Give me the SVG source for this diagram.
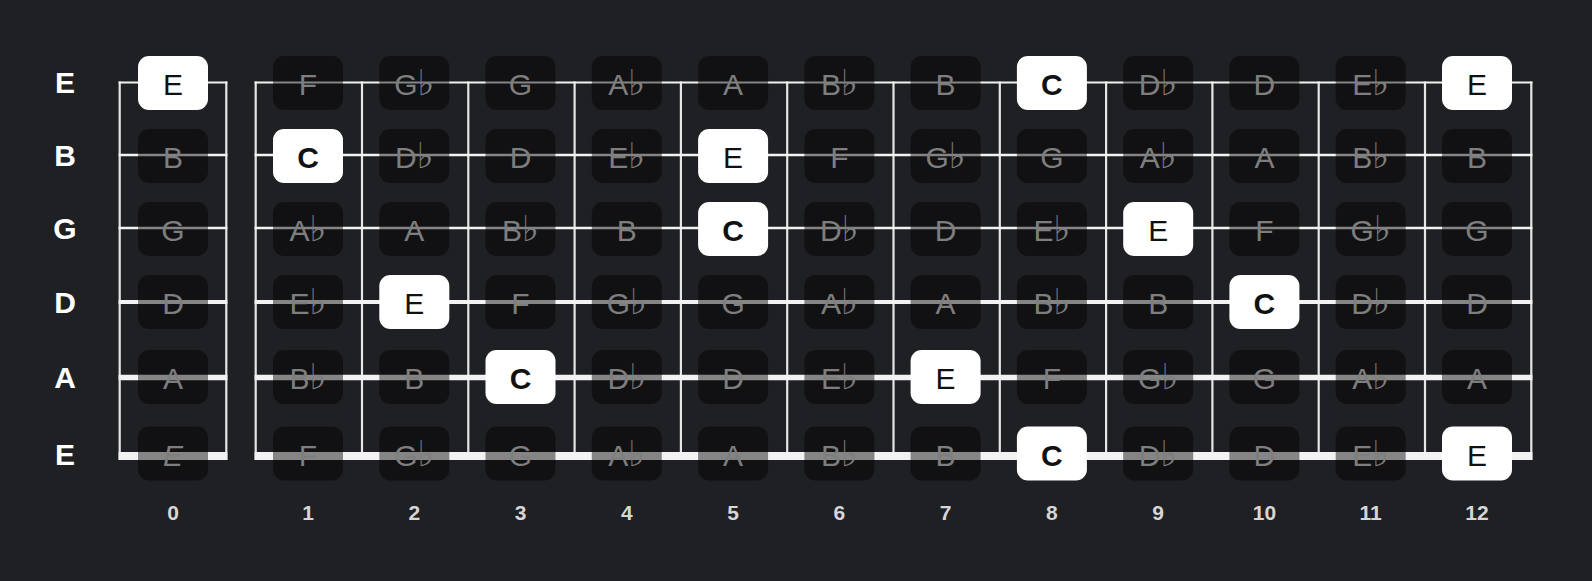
<svg xmlns="http://www.w3.org/2000/svg" width="1592" height="581" viewBox="0 0 1592 581">
<style>
text{font-family:"Liberation Sans","DejaVu Sans",Arial,sans-serif;text-anchor:middle}
.bg{fill:#1f2024}
.s{stroke:#f2f2f2;fill:none}
.f{stroke:#e6e6e6;stroke-width:2.2;fill:none}
.n rect{fill:#000;fill-opacity:0.45}
.n text{fill:#7e7e7e;font-size:30px}
.fl{font-family:"DejaVu Sans",sans-serif;font-size:36px}
.w rect{fill:#fff}
.w text{fill:#111;font-size:30px}
.root text{font-weight:bold}
.lab{fill:#fff;font-size:30px;font-weight:bold}
.num{fill:#d6d6d6;font-size:21px;font-weight:bold}
</style>
<rect class="bg" x="0" y="0" width="1592" height="581"/>
<g id="connectors">
<g id="frets">
<line class="f" x1="119.7" y1="81.5" x2="119.7" y2="460"/>
<line class="f" x1="226.3" y1="81.5" x2="226.3" y2="460"/>
<line class="f" x1="255.7" y1="81.5" x2="255.7" y2="460"/>
<line class="f" x1="362" y1="81.5" x2="362" y2="460"/>
<line class="f" x1="468.3" y1="81.5" x2="468.3" y2="460"/>
<line class="f" x1="574.6" y1="81.5" x2="574.6" y2="460"/>
<line class="f" x1="680.9" y1="81.5" x2="680.9" y2="460"/>
<line class="f" x1="787.2" y1="81.5" x2="787.2" y2="460"/>
<line class="f" x1="893.5" y1="81.5" x2="893.5" y2="460"/>
<line class="f" x1="999.8" y1="81.5" x2="999.8" y2="460"/>
<line class="f" x1="1106.1" y1="81.5" x2="1106.1" y2="460"/>
<line class="f" x1="1212.4" y1="81.5" x2="1212.4" y2="460"/>
<line class="f" x1="1318.7" y1="81.5" x2="1318.7" y2="460"/>
<line class="f" x1="1425" y1="81.5" x2="1425" y2="460"/>
<line class="f" x1="1531.3" y1="81.5" x2="1531.3" y2="460"/>
</g>
<g id="strings">
<path class="s" stroke-width="2" d="M118.6 82.5H227.4M254.6 82.5H1532.4"/>
<path class="s" stroke-width="2.4" d="M118.6 155H227.4M254.6 155H1532.4"/>
<path class="s" stroke-width="2.6" d="M118.6 228H227.4M254.6 228H1532.4"/>
<path class="s" stroke-width="4" d="M118.6 302H227.4M254.6 302H1532.4"/>
<path class="s" stroke-width="5.6" d="M118.6 377.5H227.4M254.6 377.5H1532.4"/>
<path class="s" stroke-width="8" d="M118.6 456H227.4M254.6 456H1532.4"/>
</g>
</g>
<g id="string-labels">
<text class="lab" x="65" y="93">E</text>
<text class="lab" x="65" y="166">B</text>
<text class="lab" x="65" y="239">G</text>
<text class="lab" x="65" y="313">D</text>
<text class="lab" x="65" y="388">A</text>
<text class="lab" x="65" y="465">E</text>
</g>
<g id="fret-numbers">
<text class="num" x="173" y="520">0</text>
<text class="num" x="308" y="520">1</text>
<text class="num" x="414.3" y="520">2</text>
<text class="num" x="520.5" y="520">3</text>
<text class="num" x="626.8" y="520">4</text>
<text class="num" x="733.1" y="520">5</text>
<text class="num" x="839.4" y="520">6</text>
<text class="num" x="945.6" y="520">7</text>
<text class="num" x="1051.9" y="520">8</text>
<text class="num" x="1158.2" y="520">9</text>
<text class="num" x="1264.4" y="520">10</text>
<text class="num" x="1370.7" y="520">11</text>
<text class="num" x="1477" y="520">12</text>
</g>
<!-- string 1 (high E) -->
<g id="s1f0" class="w"><rect x="138" y="56" width="70" height="54" rx="11"/><text x="173" y="95">E</text></g>
<g id="s1f1" class="n"><rect x="273" y="56" width="70" height="54" rx="11"/><text x="308" y="95">F</text></g>
<g id="s1f2" class="n"><rect x="379.3" y="56" width="70" height="54" rx="11"/><text x="414.3" y="95">G<tspan class="fl">♭</tspan></text></g>
<g id="s1f3" class="n"><rect x="485.5" y="56" width="70" height="54" rx="11"/><text x="520.5" y="95">G</text></g>
<g id="s1f4" class="n"><rect x="591.8" y="56" width="70" height="54" rx="11"/><text x="626.8" y="95">A<tspan class="fl">♭</tspan></text></g>
<g id="s1f5" class="n"><rect x="698.1" y="56" width="70" height="54" rx="11"/><text x="733.1" y="95">A</text></g>
<g id="s1f6" class="n"><rect x="804.4" y="56" width="70" height="54" rx="11"/><text x="839.4" y="95">B<tspan class="fl">♭</tspan></text></g>
<g id="s1f7" class="n"><rect x="910.6" y="56" width="70" height="54" rx="11"/><text x="945.6" y="95">B</text></g>
<g id="s1f8" class="w root"><rect x="1016.9" y="56" width="70" height="54" rx="11"/><text x="1051.9" y="95">C</text></g>
<g id="s1f9" class="n"><rect x="1123.2" y="56" width="70" height="54" rx="11"/><text x="1158.2" y="95">D<tspan class="fl">♭</tspan></text></g>
<g id="s1f10" class="n"><rect x="1229.4" y="56" width="70" height="54" rx="11"/><text x="1264.4" y="95">D</text></g>
<g id="s1f11" class="n"><rect x="1335.7" y="56" width="70" height="54" rx="11"/><text x="1370.7" y="95">E<tspan class="fl">♭</tspan></text></g>
<g id="s1f12" class="w"><rect x="1442" y="56" width="70" height="54" rx="11"/><text x="1477" y="95">E</text></g>
<!-- string 2 (B) -->
<g id="s2f0" class="n"><rect x="138" y="129" width="70" height="54" rx="11"/><text x="173" y="168">B</text></g>
<g id="s2f1" class="w root"><rect x="273" y="129" width="70" height="54" rx="11"/><text x="308" y="168">C</text></g>
<g id="s2f2" class="n"><rect x="379.3" y="129" width="70" height="54" rx="11"/><text x="414.3" y="168">D<tspan class="fl">♭</tspan></text></g>
<g id="s2f3" class="n"><rect x="485.5" y="129" width="70" height="54" rx="11"/><text x="520.5" y="168">D</text></g>
<g id="s2f4" class="n"><rect x="591.8" y="129" width="70" height="54" rx="11"/><text x="626.8" y="168">E<tspan class="fl">♭</tspan></text></g>
<g id="s2f5" class="w"><rect x="698.1" y="129" width="70" height="54" rx="11"/><text x="733.1" y="168">E</text></g>
<g id="s2f6" class="n"><rect x="804.4" y="129" width="70" height="54" rx="11"/><text x="839.4" y="168">F</text></g>
<g id="s2f7" class="n"><rect x="910.6" y="129" width="70" height="54" rx="11"/><text x="945.6" y="168">G<tspan class="fl">♭</tspan></text></g>
<g id="s2f8" class="n"><rect x="1016.9" y="129" width="70" height="54" rx="11"/><text x="1051.9" y="168">G</text></g>
<g id="s2f9" class="n"><rect x="1123.2" y="129" width="70" height="54" rx="11"/><text x="1158.2" y="168">A<tspan class="fl">♭</tspan></text></g>
<g id="s2f10" class="n"><rect x="1229.4" y="129" width="70" height="54" rx="11"/><text x="1264.4" y="168">A</text></g>
<g id="s2f11" class="n"><rect x="1335.7" y="129" width="70" height="54" rx="11"/><text x="1370.7" y="168">B<tspan class="fl">♭</tspan></text></g>
<g id="s2f12" class="n"><rect x="1442" y="129" width="70" height="54" rx="11"/><text x="1477" y="168">B</text></g>
<!-- string 3 (G) -->
<g id="s3f0" class="n"><rect x="138" y="202" width="70" height="54" rx="11"/><text x="173" y="241">G</text></g>
<g id="s3f1" class="n"><rect x="273" y="202" width="70" height="54" rx="11"/><text x="308" y="241">A<tspan class="fl">♭</tspan></text></g>
<g id="s3f2" class="n"><rect x="379.3" y="202" width="70" height="54" rx="11"/><text x="414.3" y="241">A</text></g>
<g id="s3f3" class="n"><rect x="485.5" y="202" width="70" height="54" rx="11"/><text x="520.5" y="241">B<tspan class="fl">♭</tspan></text></g>
<g id="s3f4" class="n"><rect x="591.8" y="202" width="70" height="54" rx="11"/><text x="626.8" y="241">B</text></g>
<g id="s3f5" class="w root"><rect x="698.1" y="202" width="70" height="54" rx="11"/><text x="733.1" y="241">C</text></g>
<g id="s3f6" class="n"><rect x="804.4" y="202" width="70" height="54" rx="11"/><text x="839.4" y="241">D<tspan class="fl">♭</tspan></text></g>
<g id="s3f7" class="n"><rect x="910.6" y="202" width="70" height="54" rx="11"/><text x="945.6" y="241">D</text></g>
<g id="s3f8" class="n"><rect x="1016.9" y="202" width="70" height="54" rx="11"/><text x="1051.9" y="241">E<tspan class="fl">♭</tspan></text></g>
<g id="s3f9" class="w"><rect x="1123.2" y="202" width="70" height="54" rx="11"/><text x="1158.2" y="241">E</text></g>
<g id="s3f10" class="n"><rect x="1229.4" y="202" width="70" height="54" rx="11"/><text x="1264.4" y="241">F</text></g>
<g id="s3f11" class="n"><rect x="1335.7" y="202" width="70" height="54" rx="11"/><text x="1370.7" y="241">G<tspan class="fl">♭</tspan></text></g>
<g id="s3f12" class="n"><rect x="1442" y="202" width="70" height="54" rx="11"/><text x="1477" y="241">G</text></g>
<!-- string 4 (D) -->
<g id="s4f0" class="n"><rect x="138" y="275" width="70" height="54" rx="11"/><text x="173" y="314">D</text></g>
<g id="s4f1" class="n"><rect x="273" y="275" width="70" height="54" rx="11"/><text x="308" y="314">E<tspan class="fl">♭</tspan></text></g>
<g id="s4f2" class="w"><rect x="379.3" y="275" width="70" height="54" rx="11"/><text x="414.3" y="314">E</text></g>
<g id="s4f3" class="n"><rect x="485.5" y="275" width="70" height="54" rx="11"/><text x="520.5" y="314">F</text></g>
<g id="s4f4" class="n"><rect x="591.8" y="275" width="70" height="54" rx="11"/><text x="626.8" y="314">G<tspan class="fl">♭</tspan></text></g>
<g id="s4f5" class="n"><rect x="698.1" y="275" width="70" height="54" rx="11"/><text x="733.1" y="314">G</text></g>
<g id="s4f6" class="n"><rect x="804.4" y="275" width="70" height="54" rx="11"/><text x="839.4" y="314">A<tspan class="fl">♭</tspan></text></g>
<g id="s4f7" class="n"><rect x="910.6" y="275" width="70" height="54" rx="11"/><text x="945.6" y="314">A</text></g>
<g id="s4f8" class="n"><rect x="1016.9" y="275" width="70" height="54" rx="11"/><text x="1051.9" y="314">B<tspan class="fl">♭</tspan></text></g>
<g id="s4f9" class="n"><rect x="1123.2" y="275" width="70" height="54" rx="11"/><text x="1158.2" y="314">B</text></g>
<g id="s4f10" class="w root"><rect x="1229.4" y="275" width="70" height="54" rx="11"/><text x="1264.4" y="314">C</text></g>
<g id="s4f11" class="n"><rect x="1335.7" y="275" width="70" height="54" rx="11"/><text x="1370.7" y="314">D<tspan class="fl">♭</tspan></text></g>
<g id="s4f12" class="n"><rect x="1442" y="275" width="70" height="54" rx="11"/><text x="1477" y="314">D</text></g>
<!-- string 5 (A) -->
<g id="s5f0" class="n"><rect x="138" y="350" width="70" height="54" rx="11"/><text x="173" y="389">A</text></g>
<g id="s5f1" class="n"><rect x="273" y="350" width="70" height="54" rx="11"/><text x="308" y="389">B<tspan class="fl">♭</tspan></text></g>
<g id="s5f2" class="n"><rect x="379.3" y="350" width="70" height="54" rx="11"/><text x="414.3" y="389">B</text></g>
<g id="s5f3" class="w root"><rect x="485.5" y="350" width="70" height="54" rx="11"/><text x="520.5" y="389">C</text></g>
<g id="s5f4" class="n"><rect x="591.8" y="350" width="70" height="54" rx="11"/><text x="626.8" y="389">D<tspan class="fl">♭</tspan></text></g>
<g id="s5f5" class="n"><rect x="698.1" y="350" width="70" height="54" rx="11"/><text x="733.1" y="389">D</text></g>
<g id="s5f6" class="n"><rect x="804.4" y="350" width="70" height="54" rx="11"/><text x="839.4" y="389">E<tspan class="fl">♭</tspan></text></g>
<g id="s5f7" class="w"><rect x="910.6" y="350" width="70" height="54" rx="11"/><text x="945.6" y="389">E</text></g>
<g id="s5f8" class="n"><rect x="1016.9" y="350" width="70" height="54" rx="11"/><text x="1051.9" y="389">F</text></g>
<g id="s5f9" class="n"><rect x="1123.2" y="350" width="70" height="54" rx="11"/><text x="1158.2" y="389">G<tspan class="fl">♭</tspan></text></g>
<g id="s5f10" class="n"><rect x="1229.4" y="350" width="70" height="54" rx="11"/><text x="1264.4" y="389">G</text></g>
<g id="s5f11" class="n"><rect x="1335.7" y="350" width="70" height="54" rx="11"/><text x="1370.7" y="389">A<tspan class="fl">♭</tspan></text></g>
<g id="s5f12" class="n"><rect x="1442" y="350" width="70" height="54" rx="11"/><text x="1477" y="389">A</text></g>
<!-- string 6 (low E) -->
<g id="s6f0" class="n"><rect x="138" y="426.5" width="70" height="54" rx="11"/><text x="173" y="465.5" font-style="italic">E</text></g>
<g id="s6f1" class="n"><rect x="273" y="426.5" width="70" height="54" rx="11"/><text x="308" y="465.5">F</text></g>
<g id="s6f2" class="n"><rect x="379.3" y="426.5" width="70" height="54" rx="11"/><text x="414.3" y="465.5">G<tspan class="fl">♭</tspan></text></g>
<g id="s6f3" class="n"><rect x="485.5" y="426.5" width="70" height="54" rx="11"/><text x="520.5" y="465.5">G</text></g>
<g id="s6f4" class="n"><rect x="591.8" y="426.5" width="70" height="54" rx="11"/><text x="626.8" y="465.5">A<tspan class="fl">♭</tspan></text></g>
<g id="s6f5" class="n"><rect x="698.1" y="426.5" width="70" height="54" rx="11"/><text x="733.1" y="465.5">A</text></g>
<g id="s6f6" class="n"><rect x="804.4" y="426.5" width="70" height="54" rx="11"/><text x="839.4" y="465.5">B<tspan class="fl">♭</tspan></text></g>
<g id="s6f7" class="n"><rect x="910.6" y="426.5" width="70" height="54" rx="11"/><text x="945.6" y="465.5">B</text></g>
<g id="s6f8" class="w root"><rect x="1016.9" y="426.5" width="70" height="54" rx="11"/><text x="1051.9" y="465.5">C</text></g>
<g id="s6f9" class="n"><rect x="1123.2" y="426.5" width="70" height="54" rx="11"/><text x="1158.2" y="465.5">D<tspan class="fl">♭</tspan></text></g>
<g id="s6f10" class="n"><rect x="1229.4" y="426.5" width="70" height="54" rx="11"/><text x="1264.4" y="465.5">D</text></g>
<g id="s6f11" class="n"><rect x="1335.7" y="426.5" width="70" height="54" rx="11"/><text x="1370.7" y="465.5">E<tspan class="fl">♭</tspan></text></g>
<g id="s6f12" class="w"><rect x="1442" y="426.5" width="70" height="54" rx="11"/><text x="1477" y="465.5">E</text></g>
</svg>
